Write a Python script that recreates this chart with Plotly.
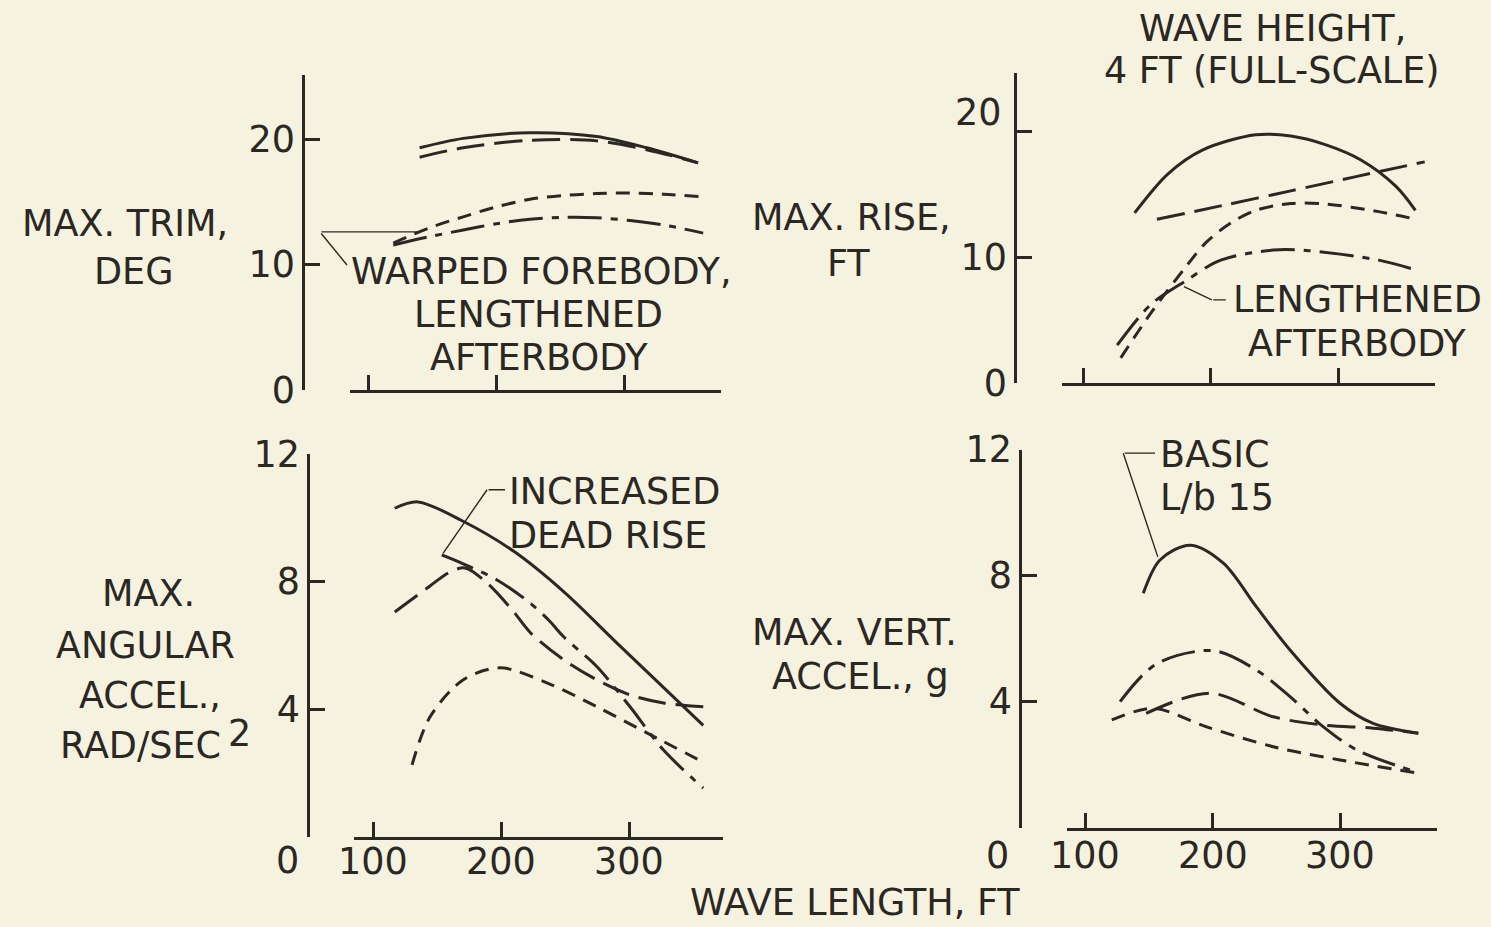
import plotly.graph_objects as go

W, H = 1491, 927
INK = '#2b2723'
BG = '#f5f2e0'
FONT = 'DejaVu Sans'
FS = 36.5

# ---------------- data (wave length in ft -> value) ----------------
# Max. trim, deg
trim_wl_ab = [140, 174, 226, 278, 317, 357]
trim_solid = [19.3, 20.05, 20.5, 20.2, 19.3, 18.1]
trim_longdash = [18.55, 19.3, 19.9, 19.85, 19.15, 18.1]
trim_wl_cd = [119.5, 147, 174, 200, 226, 252, 278, 304, 330, 361]
trim_shortdash = [11.7, 12.9, 13.8, 14.6, 15.2, 15.5, 15.65, 15.7, 15.6, 15.4]
trim_dashdot = [11.55, 12.2, 12.75, 13.25, 13.6, 13.75, 13.72, 13.5, 13.15, 12.5]

# Max. rise, ft
rise_wl_solid = [140.5, 166.7, 194, 235.5, 263, 290.6, 318, 345.5, 360.7]
rise_solid = [13.5, 16.6, 18.5, 19.7, 19.6, 18.9, 17.7, 15.6, 13.7]
rise_wl_longdash = [158, 210, 263, 315, 368]
rise_longdash = [13.0, 14.1, 15.25, 16.4, 17.55]
rise_wl_shortdash = [129.6, 152.9, 180.5, 197, 216, 235.5, 263, 290.6, 331.8, 360.7]
rise_shortdash = [2.0, 5.5, 9.2, 11.2, 12.7, 13.7, 14.25, 14.2, 13.6, 13.0]
rise_wl_dashdot = [126.8, 152.9, 180.5, 208, 249, 277, 332, 363.5]
rise_dashdot = [3.0, 6.2, 8.1, 9.75, 10.55, 10.5, 9.75, 8.9]

# Max. angular accel., rad/sec^2
ang_wl_solid = [117, 135, 170, 210, 250, 290, 358]
ang_solid = [10.3, 10.5, 9.9, 8.95, 7.65, 6.1, 3.5]
ang_wl_longdash = [117, 144, 160, 172, 189, 209, 223, 249, 275, 301, 327, 358]
ang_longdash = [7.05, 7.85, 8.3, 8.43, 7.96, 7.1, 6.4, 5.55, 4.92, 4.45, 4.2, 4.08]
ang_wl_dashdot = [153.7, 170.5, 196.6, 222.7, 238.3, 248.7, 274.8, 300.8, 326.8, 358]
ang_dashdot = [8.84, 8.56, 8.06, 7.33, 6.75, 6.28, 5.34, 4.08, 2.73, 1.53]
ang_wl_shortdash = [130.5, 144.5, 170.3, 199.2, 235.9, 275, 314, 357.8]
ang_shortdash = [2.26, 3.76, 4.92, 5.3, 4.83, 4.08, 3.26, 2.35]

# Max. vert. accel., g
vert_wl_solid = [145.7, 158.8, 182.4, 208.5, 234.6, 260.8, 300, 326, 361.4]
vert_solid = [7.44, 8.5, 8.97, 8.4, 7.0, 5.64, 3.95, 3.31, 3.0]
vert_wl_dashdot = [127.5, 156, 200.6, 234.6, 260.8, 287, 313, 359]
vert_dashdot = [4.0, 5.2, 5.62, 5.0, 4.16, 3.2, 2.47, 1.78]
vert_wl_longdash = [148, 198, 247.7, 287, 326, 361.4]
vert_longdash = [3.63, 4.27, 3.52, 3.26, 3.16, 3.0]
vert_wl_shortdash = [121, 153.6, 195.4, 247.7, 300, 361.4]
vert_shortdash = [3.42, 3.79, 3.2, 2.57, 2.15, 1.73]

# leader lines (data coordinates of each panel)
lead_rise_x, lead_rise_y = [178.0, 201.0, 212.0], [7.7, 6.6, 6.6]
lead_ang_x, lead_ang_y = [153.9, 189.1, 203.1], [8.84, 10.88, 10.88]
lead_vert_x, lead_vert_y = [157.5, 130.0, 154.9], [8.55, 11.89, 11.89]
lead_trim_x, lead_trim_y = 140.3, 12.6   # point on curve, leader runs off to the left

x_ticks = [100, 200, 300]
x_ticktext = ['100', '200', '300']

# ---------------- geometry (pixels) ----------------
panels = {
    1: dict(x0=350, x1=721, x100=368.3, xs=1.283, yb=390, yt=75, ys=12.55, ypos=303,
            yticks=[0, 10, 20], yticktext=['0', '10', '20'], xlab_y=None),
    2: dict(x0=1062, x1=1435, x100=1083, xs=1.275, yb=383, yt=73, ys=12.6, ypos=1015,
            yticks=[0, 10, 20], yticktext=['0', '10', ''], xlab_y=None),
    3: dict(x0=354, x1=723, x100=373, xs=1.28, yb=837, yt=454, ys=None, ypos=308,
            yticks=[0, 4, 8, 12], yticktext=['', '4', '8', '12'], xlab_y=861),
    4: dict(x0=1067, x1=1437, x100=1085, xs=1.275, yb=827.7, yt=449.7, ys=None, ypos=1020,
            yticks=[0, 4, 8, 12], yticktext=['', '4', '8', '12'], xlab_y=855),
}

def fx(p):
    return p / W

def fy(p):
    return 1 - p / H

def ax_name(n, a):
    return a if n == 1 else f'{a}{n}'

DASH = {
    'solid': 'solid',
    'long': '28px,10px',
    'short': '14px,9px',
    'dashdot': '34px,9px,7px,9px',
}

fig = go.Figure()

def add_curve(n, xs, ys, style):
    fig.add_trace(go.Scatter(
        x=xs, y=ys, mode='lines',
        line=dict(color=INK, width=3, dash=DASH[style], shape='spline', smoothing=0.9),
        xaxis=ax_name(n, 'x'), yaxis=ax_name(n, 'y'),
        hoverinfo='skip', showlegend=False))

add_curve(1, trim_wl_ab, trim_solid, 'solid')
add_curve(1, trim_wl_ab, trim_longdash, 'long')
add_curve(1, trim_wl_cd, trim_shortdash, 'short')
add_curve(1, trim_wl_cd, trim_dashdot, 'dashdot')

add_curve(2, rise_wl_solid, rise_solid, 'solid')
add_curve(2, rise_wl_longdash, rise_longdash, 'long')
add_curve(2, rise_wl_shortdash, rise_shortdash, 'short')
add_curve(2, rise_wl_dashdot, rise_dashdot, 'dashdot')

add_curve(3, ang_wl_solid, ang_solid, 'solid')
add_curve(3, ang_wl_longdash, ang_longdash, 'long')
add_curve(3, ang_wl_dashdot, ang_dashdot, 'dashdot')
add_curve(3, ang_wl_shortdash, ang_shortdash, 'short')

add_curve(4, vert_wl_solid, vert_solid, 'solid')
add_curve(4, vert_wl_dashdot, vert_dashdot, 'dashdot')
add_curve(4, vert_wl_longdash, vert_longdash, 'long')
add_curve(4, vert_wl_shortdash, vert_shortdash, 'short')

layout = dict(
    template='none',
    width=W, height=H, margin=dict(l=0, r=0, t=0, b=0, pad=0, autoexpand=False),
    paper_bgcolor=BG, plot_bgcolor='rgba(0,0,0,0)', showlegend=False,
    font=dict(family=FONT, size=FS, color=INK),
)

for n, g in panels.items():
    xr = [100 + (g['x0'] - g['x100']) / g['xs'], 100 + (g['x1'] - g['x100']) / g['xs']]
    if g['ys'] is None:
        yr = [0, 12]
    else:
        yr = [0, (g['yb'] - g['yt']) / g['ys']]
    xa = 'xaxis' if n == 1 else f'xaxis{n}'
    ya = 'yaxis' if n == 1 else f'yaxis{n}'
    layout[xa] = dict(
        domain=[fx(g['x0']), fx(g['x1'])], range=xr, anchor=ax_name(n, 'y'),
        showline=True, linecolor=INK, linewidth=2.5, automargin=False,
        ticks='inside', ticklen=15, tickwidth=2.5, tickcolor=INK,
        tickvals=x_ticks, showticklabels=False,
        showgrid=False, zeroline=False, fixedrange=True)
    layout[ya] = dict(
        domain=[fy(g['yb']), fy(g['yt'])], range=yr, anchor='free', position=fx(g['ypos']),
        showline=True, linecolor=INK, linewidth=2.5, automargin=False,
        ticks='inside', ticklen=15, tickwidth=2.5, tickcolor=INK,
        tickvals=g['yticks'], ticktext=g['yticktext'],
        tickfont=dict(family=FONT, size=FS, color=INK),
        showgrid=False, zeroline=False, fixedrange=True)

fig.update_layout(**layout)

annotations = []

def label(text, px, py, xanchor='center', size=FS):
    annotations.append(dict(text=text, x=fx(px), y=fy(py), xref='paper', yref='paper',
                            xanchor=xanchor, yanchor='middle', showarrow=False,
                            font=dict(family=FONT, size=size, color=INK)))

# wave-length tick labels of the lower panels (placed on the data scale)
for n, g in panels.items():
    if g['xlab_y'] is None:
        continue
    for v, t in zip(x_ticks, x_ticktext):
        annotations.append(dict(text=t, x=v, y=fy(g['xlab_y']), xref=ax_name(n, 'x'),
                                yref='paper', xanchor='center', yanchor='middle',
                                showarrow=False, font=dict(family=FONT, size=FS, color=INK)))

# axis titles
label('MAX. TRIM,', 125, 224)
label('DEG', 133, 271)
label('MAX. RISE,', 851, 217)
label('FT', 848, 264)
label('MAX.', 148, 593)
label('ANGULAR', 145, 645)
label('ACCEL.,', 150, 695)
label('RAD/SEC', 140, 745)
label('2', 239, 733)
label('MAX. VERT.', 854, 632)
label('ACCEL., g', 860, 676)
label('WAVE LENGTH, FT', 855, 902)
label('WAVE HEIGHT,', 1272, 28)
label('4 FT (FULL-SCALE)', 1272, 71)
# curve notes
label('WARPED FOREBODY,', 541, 271)
label('LENGTHENED', 538, 314)
label('AFTERBODY', 539, 357)
label('LENGTHENED', 1357, 300)
label('AFTERBODY', 1357, 343)
label('INCREASED', 507, 491, xanchor='left')
label('DEAD RISE', 507, 535, xanchor='left')
label('BASIC', 1158, 454, xanchor='left')
label('L/b 15', 1158, 497, xanchor='left')
# origin labels of the broken axes
label('0', 287, 860)
label('0', 997, 855)
label('20', 978, 112)

LEAD = dict(text='', showarrow=True, arrowhead=0, arrowwidth=1.4, arrowcolor=INK,
            standoff=0, startstandoff=0)

def leader(n, xs, ys):
    for i in range(len(xs) - 1):
        annotations.append(dict(
            x=xs[i + 1], y=ys[i + 1], ax=xs[i], ay=ys[i],
            xref=ax_name(n, 'x'), yref=ax_name(n, 'y'),
            axref=ax_name(n, 'x'), ayref=ax_name(n, 'y'), **LEAD))

leader(2, lead_rise_x, lead_rise_y)
leader(3, lead_ang_x, lead_ang_y)
leader(4, lead_vert_x, lead_vert_y)
# trim leader: horizontal run from the curve, then a diagonal down to the note
annotations.append(dict(x=lead_trim_x, y=lead_trim_y, xref='x', yref='y',
                        ax=-100, ay=0, **LEAD))
annotations.append(dict(x=fx(347), y=fy(265), xref='paper', yref='paper',
                        ax=-27, ay=-33, **LEAD))

fig.update_layout(annotations=annotations)
fig.write_html(
    'out.html', config={'displayModeBar': False},
    post_script="document.documentElement.style.margin='0';"
                "document.body.style.margin='0';document.body.style.padding='0';"
                "document.documentElement.style.overflow='hidden';"
                "document.body.style.overflow='hidden';")
